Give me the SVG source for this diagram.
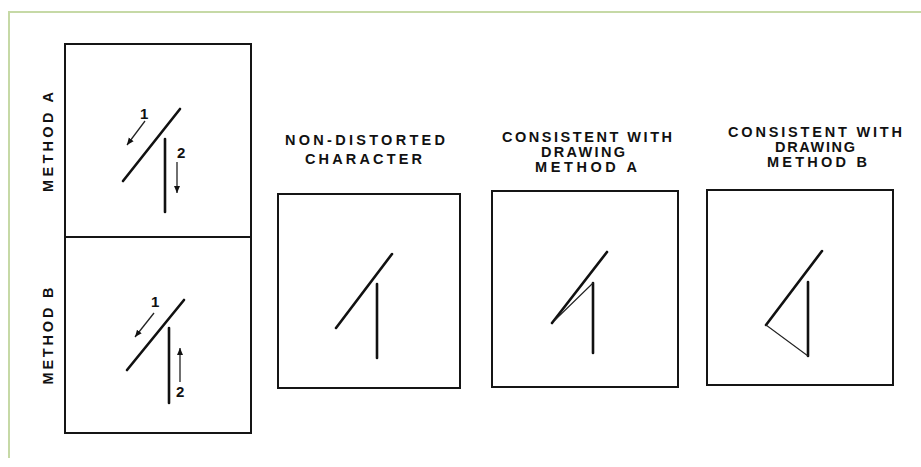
<svg xmlns="http://www.w3.org/2000/svg" width="921" height="467" viewBox="0 0 921 467">
  <style>
    .frame { fill: none; stroke: #c6d9a6; stroke-width: 2; }
    .box { fill: none; stroke: #151515; stroke-width: 2; }
    .stroke { fill: none; stroke: #111; stroke-width: 2.6; stroke-linecap: round; }
    .thin { fill: none; stroke: #222; stroke-width: 1.1; stroke-linecap: round; }
    .arrow { fill: none; stroke: #222; stroke-width: 1.3; }
    .lbl { font-family: "Liberation Sans", Arial, sans-serif; font-weight: bold; font-size: 14.5px; fill: #111; }
    .num { font-family: "Liberation Sans", Arial, sans-serif; font-weight: bold; font-size: 15px; fill: #111; }
  </style>
  <defs>
    <marker id="ah" markerUnits="userSpaceOnUse" markerWidth="8" markerHeight="8" refX="7" refY="4" orient="auto">
      <path d="M0,1 L7,4 L0,7 Z" fill="#111"/>
    </marker>
  </defs>
  <rect width="921" height="467" fill="#ffffff"/>
  <path class="frame" d="M9,458 L9,12 L921,12"/>

  <g id="method-a">
    <rect class="box" x="65" y="44" width="186" height="193"/>
    <text class="lbl" transform="translate(53,142) rotate(-90)" text-anchor="middle" textLength="100" lengthAdjust="spacing">METHOD A</text>
    <line class="stroke" x1="123" y1="181" x2="180" y2="109"/>
    <line class="stroke" x1="165" y1="139" x2="165" y2="212"/>
    <line class="arrow" x1="145" y1="121" x2="127" y2="145" marker-end="url(#ah)"/>
    <text class="num" x="140" y="119">1</text>
    <line class="arrow" x1="177" y1="162" x2="177" y2="193" marker-end="url(#ah)"/>
    <text class="num" x="177" y="158">2</text>
  </g>

  <g id="method-b">
    <rect class="box" x="65" y="237" width="186" height="196"/>
    <text class="lbl" transform="translate(53,336) rotate(-90)" text-anchor="middle" textLength="97" lengthAdjust="spacing">METHOD B</text>
    <line class="stroke" x1="127" y1="370" x2="184" y2="300"/>
    <line class="stroke" x1="169" y1="328" x2="169" y2="403"/>
    <line class="arrow" x1="154" y1="313" x2="135" y2="337" marker-end="url(#ah)"/>
    <text class="num" x="151" y="307">1</text>
    <line class="arrow" x1="180" y1="382" x2="180" y2="348" marker-end="url(#ah)"/>
    <text class="num" x="176" y="397">2</text>
  </g>

  <g id="non-distorted">
    <text class="lbl" x="285" y="145" textLength="160" lengthAdjust="spacing">NON-DISTORTED</text>
    <text class="lbl" x="305" y="164" textLength="117" lengthAdjust="spacing">CHARACTER</text>
    <rect class="box" x="278" y="194" width="182" height="194"/>
    <line class="stroke" x1="336" y1="328" x2="392" y2="254"/>
    <line class="stroke" x1="377" y1="284" x2="377" y2="358"/>
  </g>

  <g id="consistent-a">
    <text class="lbl" x="502" y="142" textLength="170" lengthAdjust="spacing">CONSISTENT WITH</text>
    <text class="lbl" x="541" y="157" textLength="84" lengthAdjust="spacing">DRAWING</text>
    <text class="lbl" x="535" y="172" textLength="102" lengthAdjust="spacing">METHOD A</text>
    <rect class="box" x="492" y="191" width="186" height="196"/>
    <line class="stroke" x1="552" y1="323" x2="607" y2="252"/>
    <line class="stroke" x1="593" y1="283" x2="593" y2="353"/>
    <line class="thin" x1="593" y1="283" x2="555" y2="320"/>
  </g>

  <g id="consistent-b">
    <text class="lbl" x="728" y="137" textLength="174" lengthAdjust="spacing">CONSISTENT WITH</text>
    <text class="lbl" x="775" y="152" textLength="80" lengthAdjust="spacing">DRAWING</text>
    <text class="lbl" x="767" y="167" textLength="100" lengthAdjust="spacing">METHOD B</text>
    <rect class="box" x="707" y="190" width="186" height="195"/>
    <line class="stroke" x1="766" y1="325" x2="822" y2="251"/>
    <line class="stroke" x1="808" y1="282" x2="808" y2="356"/>
    <line class="thin" x1="766" y1="325" x2="808" y2="356"/>
  </g>
</svg>
